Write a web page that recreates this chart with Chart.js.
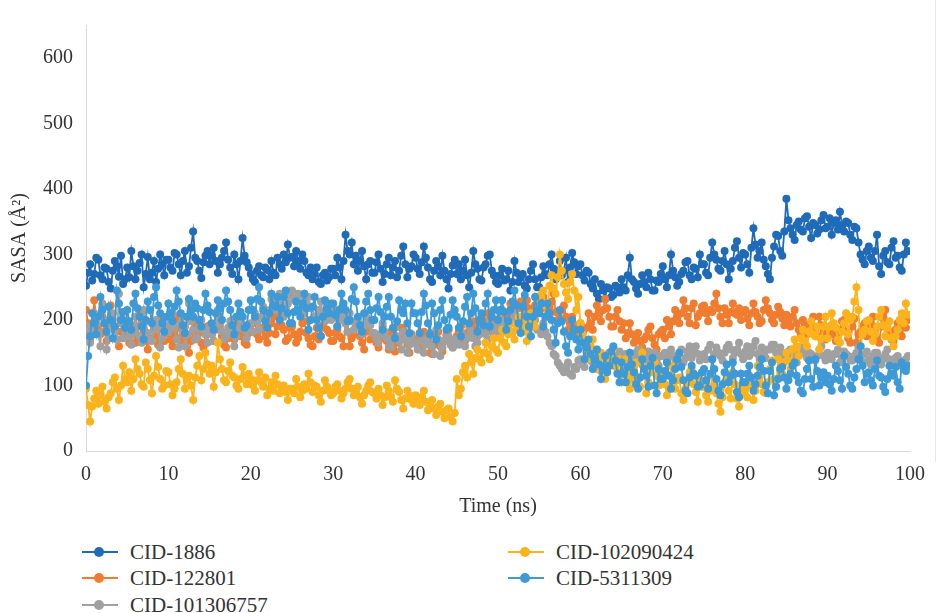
<!DOCTYPE html>
<html>
<head>
<meta charset="utf-8">
<script src="https://cdn.jsdelivr.net/npm/chart.js@4.4.1/dist/chart.umd.min.js"></script>
<style>
  body { margin: 0; background: #fff; }
  #wrap { position: relative; width: 937px; height: 613px; overflow: hidden; }
  #chart { position: absolute; left: 0; top: 0; }
  .edge { position: absolute; left: 935px; top: 0; width: 1px; height: 462px; background: #e6e6e6; }
  .item { position: absolute; height: 26px; display: flex; align-items: center;
          font-family: "Liberation Serif", "Times New Roman", serif; font-size: 21px; color: #333; }
  .item svg { margin-right: 12px; }
</style>
</head>
<body>
<div id="wrap">
  <canvas id="chart" width="937" height="530"></canvas>
  <div class="edge"></div>
  <div id="legend"></div>
</div>
<script>
// time axis (ns), one row = 5 ns
const time = [
  0, 0.25, 0.5, 0.75, 1, 1.25, 1.5, 1.75, 2, 2.25, 2.5, 2.75, 3, 3.25, 3.5, 3.75, 4, 4.25, 4.5, 4.75,
  5, 5.25, 5.5, 5.75, 6, 6.25, 6.5, 6.75, 7, 7.25, 7.5, 7.75, 8, 8.25, 8.5, 8.75, 9, 9.25, 9.5, 9.75,
  10, 10.25, 10.5, 10.75, 11, 11.25, 11.5, 11.75, 12, 12.25, 12.5, 12.75, 13, 13.25, 13.5, 13.75, 14, 14.25, 14.5, 14.75,
  15, 15.25, 15.5, 15.75, 16, 16.25, 16.5, 16.75, 17, 17.25, 17.5, 17.75, 18, 18.25, 18.5, 18.75, 19, 19.25, 19.5, 19.75,
  20, 20.25, 20.5, 20.75, 21, 21.25, 21.5, 21.75, 22, 22.25, 22.5, 22.75, 23, 23.25, 23.5, 23.75, 24, 24.25, 24.5, 24.75,
  25, 25.25, 25.5, 25.75, 26, 26.25, 26.5, 26.75, 27, 27.25, 27.5, 27.75, 28, 28.25, 28.5, 28.75, 29, 29.25, 29.5, 29.75,
  30, 30.25, 30.5, 30.75, 31, 31.25, 31.5, 31.75, 32, 32.25, 32.5, 32.75, 33, 33.25, 33.5, 33.75, 34, 34.25, 34.5, 34.75,
  35, 35.25, 35.5, 35.75, 36, 36.25, 36.5, 36.75, 37, 37.25, 37.5, 37.75, 38, 38.25, 38.5, 38.75, 39, 39.25, 39.5, 39.75,
  40, 40.25, 40.5, 40.75, 41, 41.25, 41.5, 41.75, 42, 42.25, 42.5, 42.75, 43, 43.25, 43.5, 43.75, 44, 44.25, 44.5, 44.75,
  45, 45.25, 45.5, 45.75, 46, 46.25, 46.5, 46.75, 47, 47.25, 47.5, 47.75, 48, 48.25, 48.5, 48.75, 49, 49.25, 49.5, 49.75,
  50, 50.25, 50.5, 50.75, 51, 51.25, 51.5, 51.75, 52, 52.25, 52.5, 52.75, 53, 53.25, 53.5, 53.75, 54, 54.25, 54.5, 54.75,
  55, 55.25, 55.5, 55.75, 56, 56.25, 56.5, 56.75, 57, 57.25, 57.5, 57.75, 58, 58.25, 58.5, 58.75, 59, 59.25, 59.5, 59.75,
  60, 60.25, 60.5, 60.75, 61, 61.25, 61.5, 61.75, 62, 62.25, 62.5, 62.75, 63, 63.25, 63.5, 63.75, 64, 64.25, 64.5, 64.75,
  65, 65.25, 65.5, 65.75, 66, 66.25, 66.5, 66.75, 67, 67.25, 67.5, 67.75, 68, 68.25, 68.5, 68.75, 69, 69.25, 69.5, 69.75,
  70, 70.25, 70.5, 70.75, 71, 71.25, 71.5, 71.75, 72, 72.25, 72.5, 72.75, 73, 73.25, 73.5, 73.75, 74, 74.25, 74.5, 74.75,
  75, 75.25, 75.5, 75.75, 76, 76.25, 76.5, 76.75, 77, 77.25, 77.5, 77.75, 78, 78.25, 78.5, 78.75, 79, 79.25, 79.5, 79.75,
  80, 80.25, 80.5, 80.75, 81, 81.25, 81.5, 81.75, 82, 82.25, 82.5, 82.75, 83, 83.25, 83.5, 83.75, 84, 84.25, 84.5, 84.75,
  85, 85.25, 85.5, 85.75, 86, 86.25, 86.5, 86.75, 87, 87.25, 87.5, 87.75, 88, 88.25, 88.5, 88.75, 89, 89.25, 89.5, 89.75,
  90, 90.25, 90.5, 90.75, 91, 91.25, 91.5, 91.75, 92, 92.25, 92.5, 92.75, 93, 93.25, 93.5, 93.75, 94, 94.25, 94.5, 94.75,
  95, 95.25, 95.5, 95.75, 96, 96.25, 96.5, 96.75, 97, 97.25, 97.5, 97.75, 98, 98.25, 98.5, 98.75, 99, 99.25, 99.5, 99.75
];

const cid1886 = [
  252, 272, 285, 260, 270, 295, 292, 268, 262, 280, 278, 258, 248, 275, 290, 282, 266, 298, 255, 262,
  280, 265, 305, 282, 262, 275, 287, 300, 250, 270, 296, 262, 272, 290, 258, 278, 300, 285, 268, 292,
  292, 280, 275, 302, 300, 285, 268, 290, 305, 272, 282, 310, 335, 295, 290, 275, 264, 288, 298, 305,
  285, 298, 310, 290, 272, 285, 295, 305, 318, 292, 280, 270, 300, 285, 262, 290, 325, 298, 288, 280,
  270, 262, 258, 275, 282, 268, 265, 280, 276, 262, 290, 272, 268, 295, 285, 278, 300, 288, 315, 295,
  296, 282, 305, 290, 278, 300, 290, 272, 268, 280, 262, 270, 280, 258, 255, 268, 272, 260, 265, 278,
  278, 268, 295, 280, 262, 290, 330, 305, 300, 318, 285, 298, 275, 290, 305, 282, 262, 285, 290, 272,
  272, 288, 300, 278, 258, 270, 285, 295, 268, 280, 290, 265, 275, 298, 312, 285, 265, 278, 282, 300,
  295, 278, 270, 288, 312, 295, 280, 262, 258, 275, 290, 282, 268, 298, 275, 262, 248, 270, 283, 292,
  270, 285, 262, 275, 292, 268, 250, 272, 305, 285, 278, 262, 260, 280, 285, 298, 300, 275, 268, 258,
  255, 268, 278, 260, 262, 275, 245, 258, 290, 272, 258, 265, 270, 252, 248, 262, 275, 285, 262, 250,
  250, 265, 282, 270, 268, 285, 300, 278, 262, 275, 290, 268, 275, 295, 258, 280, 302, 288, 270, 282,
  285, 268, 260, 275, 272, 255, 248, 262, 240, 232, 255, 245, 232, 250, 248, 235, 238, 252, 250, 242,
  262, 250, 245, 268, 295, 262, 258, 248, 240, 255, 268, 258, 250, 272, 262, 245, 245, 260, 258, 270,
  282, 262, 250, 268, 300, 275, 265, 252, 258, 270, 275, 288, 290, 268, 262, 280, 278, 265, 300, 285,
  285, 272, 268, 295, 318, 300, 292, 278, 275, 290, 305, 285, 262, 278, 290, 310, 320, 295, 280, 302,
  300, 285, 272, 310, 340, 315, 295, 305, 318, 292, 282, 270, 262, 295, 312, 330, 328, 305, 298, 335,
  385, 352, 340, 330, 322, 345, 350, 338, 335, 355, 358, 342, 325, 348, 345, 332, 338, 352, 360, 340,
  342, 355, 330, 348, 352, 338, 365, 345, 335, 350, 348, 330, 322, 342, 340, 318, 300, 292, 285, 305,
  312, 295, 290, 305, 330, 282, 270, 298, 305, 288, 285, 310, 320, 295, 298, 280, 275, 300, 318, 305
];

const cid122801 = [
  215, 195, 172, 188, 230, 205, 190, 178, 205, 182, 168, 195, 222, 200, 185, 170, 160, 182, 200, 188,
  178, 165, 192, 180, 165, 175, 210, 190, 182, 168, 155, 172, 198, 185, 175, 162, 188, 200, 168, 180,
  185, 170, 160, 178, 205, 188, 172, 165, 190, 175, 150, 168, 182, 195, 198, 180, 165, 158, 178, 190,
  192, 178, 168, 185, 205, 190, 175, 162, 158, 172, 185, 200, 170, 182, 195, 175, 178, 165, 162, 180,
  182, 195, 200, 178, 170, 185, 188, 175, 165, 180, 195, 205, 178, 190, 210, 192, 185, 168, 172, 188,
  190, 178, 165, 172, 182, 195, 198, 180, 172, 162, 160, 175, 188, 170, 175, 192, 205, 185, 180, 168,
  168, 180, 185, 175, 172, 160, 195, 182, 160, 172, 178, 188, 190, 175, 165, 155, 182, 195, 170, 178,
  175, 165, 158, 172, 190, 180, 168, 155, 182, 170, 152, 165, 172, 188, 185, 170, 162, 150, 178, 168,
  170, 160, 155, 172, 182, 168, 165, 150, 148, 162, 175, 182, 160, 152, 168, 178, 185, 170, 158, 165,
  175, 182, 190, 172, 168, 180, 182, 195, 198, 185, 175, 192, 205, 198, 188, 210, 195, 182, 178, 200,
  200, 212, 215, 198, 192, 208, 225, 215, 205, 195, 218, 228, 198, 210, 230, 218, 210, 200, 222, 235,
  215, 225, 235, 218, 205, 220, 228, 240, 212, 200, 198, 215, 222, 205, 185, 195, 205, 188, 178, 192,
  195, 182, 170, 188, 210, 195, 185, 205, 222, 210, 198, 215, 232, 218, 205, 190, 190, 205, 215, 198,
  185, 195, 172, 180, 195, 178, 165, 175, 180, 168, 158, 170, 175, 185, 190, 172, 162, 155, 178, 182,
  185, 172, 200, 190, 178, 198, 215, 205, 195, 210, 230, 218, 205, 195, 218, 225, 192, 205, 210, 220,
  222, 210, 198, 215, 212, 225, 240, 218, 205, 195, 218, 208, 195, 212, 225, 210, 208, 218, 200, 212,
  215, 202, 192, 210, 225, 212, 205, 195, 198, 215, 230, 218, 210, 200, 195, 208, 220, 212, 202, 192,
  208, 198, 190, 205, 215, 195, 185, 178, 200, 192, 178, 188, 195, 205, 188, 175, 205, 192, 182, 170,
  175, 185, 192, 178, 168, 180, 185, 198, 200, 182, 172, 165, 190, 202, 165, 178, 182, 190, 195, 175,
  178, 192, 205, 185, 170, 165, 190, 202, 215, 195, 182, 170, 168, 185, 195, 178, 175, 190, 188, 200
];

const cid101306757 = [
  192, 178, 165, 185, 210, 195, 178, 160, 225, 200, 155, 172, 198, 210, 185, 170, 240, 195, 172, 185,
  188, 175, 162, 180, 205, 190, 175, 165, 215, 198, 180, 170, 168, 185, 200, 188, 158, 172, 190, 182,
  182, 195, 210, 188, 170, 158, 195, 205, 160, 178, 225, 198, 185, 170, 172, 190, 200, 185, 178, 165,
  190, 178, 168, 190, 215, 195, 182, 170, 175, 188, 198, 180, 160, 175, 188, 200, 205, 185, 172, 190,
  195, 182, 210, 198, 185, 205, 220, 212, 200, 215, 232, 218, 215, 228, 240, 222, 205, 218, 225, 238,
  245, 232, 228, 240, 238, 222, 210, 225, 235, 218, 220, 205, 205, 215, 228, 210, 198, 212, 215, 200,
  205, 215, 190, 200, 218, 205, 195, 182, 210, 198, 185, 195, 200, 188, 178, 190, 205, 195, 192, 180,
  180, 172, 165, 178, 195, 182, 172, 160, 158, 170, 188, 175, 168, 155, 182, 170, 150, 162, 175, 165,
  165, 155, 178, 168, 150, 162, 172, 180, 160, 148, 185, 170, 145, 158, 168, 175, 175, 162, 158, 170,
  170, 162, 182, 175, 160, 172, 190, 182, 172, 160, 165, 178, 185, 192, 178, 170, 195, 185, 180, 192,
  188, 178, 200, 192, 182, 195, 195, 205, 210, 198, 185, 192, 198, 210, 205, 188, 190, 200, 200, 185,
  185, 178, 195, 182, 175, 165, 160, 148, 145, 135, 130, 125, 120, 128, 135, 118, 115, 128, 125, 138,
  140, 132, 128, 145, 150, 138, 135, 148, 145, 130, 122, 135, 138, 145, 150, 140, 130, 138, 145, 152,
  135, 142, 148, 138, 128, 140, 142, 150, 155, 145, 132, 138, 145, 152, 138, 130, 150, 142, 130, 145,
  145, 150, 138, 148, 155, 145, 140, 132, 148, 155, 135, 142, 152, 160, 142, 150, 160, 148, 138, 145,
  148, 140, 155, 162, 140, 148, 158, 150, 145, 138, 150, 158, 162, 155, 142, 150, 155, 165, 148, 140,
  152, 160, 145, 150, 160, 168, 148, 140, 158, 150, 142, 155, 155, 162, 162, 150, 148, 158, 150, 145,
  145, 152, 155, 148, 140, 135, 150, 158, 158, 148, 142, 150, 148, 140, 138, 145, 155, 160, 145, 138,
  150, 142, 140, 148, 148, 155, 135, 142, 152, 148, 145, 138, 138, 145, 150, 158, 142, 135, 148, 152,
  138, 132, 145, 150, 150, 142, 132, 140, 148, 155, 140, 135, 135, 142, 145, 138, 130, 125, 140, 145
];

const cid102090424 = [
  95, 70, 45, 68, 80, 92, 72, 85, 98, 75, 65, 82, 88, 105, 112, 95, 78, 100, 130, 110,
  105, 120, 92, 110, 140, 125, 118, 102, 98, 135, 125, 108, 88, 115, 145, 128, 110, 95, 100, 122,
  120, 102, 85, 95, 105, 125, 140, 118, 95, 110, 115, 100, 78, 112, 130, 145, 108, 125, 150, 132,
  118, 130, 98, 120, 165, 140, 125, 108, 105, 122, 135, 115, 112, 100, 95, 110, 128, 115, 102, 118,
  110, 100, 92, 108, 120, 105, 98, 112, 85, 95, 105, 92, 115, 102, 88, 98, 100, 90, 78, 95,
  95, 88, 110, 98, 82, 92, 102, 95, 118, 105, 90, 100, 98, 85, 75, 92, 108, 98, 92, 85,
  88, 98, 102, 92, 80, 88, 95, 105, 110, 95, 85, 92, 98, 82, 72, 85, 92, 100, 105, 90,
  88, 80, 95, 85, 70, 82, 100, 92, 82, 75, 108, 95, 90, 78, 65, 80, 92, 85, 78, 72,
  85, 78, 70, 82, 92, 75, 62, 70, 78, 65, 55, 68, 72, 60, 50, 62, 65, 52, 45, 58,
  110, 85, 95, 120, 130, 112, 148, 135, 118, 142, 155, 140, 135, 150, 165, 148, 140, 160, 172, 155,
  150, 172, 185, 165, 160, 178, 195, 182, 170, 192, 205, 188, 182, 200, 168, 190, 210, 195, 190, 215,
  225, 238, 245, 222, 210, 252, 268, 248, 240, 265, 300, 275, 255, 242, 232, 258, 270, 245, 215, 235,
  195, 178, 165, 150, 140, 158, 170, 145, 125, 138, 150, 130, 110, 125, 135, 148, 158, 132, 120, 140,
  105, 122, 140, 118, 95, 110, 128, 135, 112, 98, 150, 128, 88, 105, 120, 132, 135, 115, 100, 118,
  118, 102, 85, 98, 130, 112, 95, 108, 112, 88, 78, 95, 105, 120, 125, 102, 90, 75, 110, 98,
  98, 85, 75, 92, 115, 100, 88, 72, 60, 82, 105, 118, 92, 80, 120, 102, 80, 68, 100, 88,
  95, 82, 115, 100, 78, 92, 130, 112, 102, 90, 88, 105, 125, 138, 110, 98, 140, 125, 118, 135,
  150, 138, 125, 155, 170, 160, 145, 172, 185, 168, 160, 182, 198, 178, 175, 190, 155, 172, 190, 205,
  172, 190, 210, 195, 188, 170, 165, 182, 195, 210, 178, 200, 205, 228, 250, 215, 160, 178, 185, 198,
  200, 182, 168, 178, 190, 205, 215, 192, 175, 188, 198, 172, 160, 175, 185, 200, 210, 195, 225, 208
];

const cid5311309 = [
  100, 145, 175, 210, 195, 178, 205, 235, 215, 195, 182, 220, 200, 172, 190, 245, 225, 200, 212, 188,
  215, 198, 185, 225, 240, 218, 205, 190, 170, 200, 228, 215, 195, 235, 250, 222, 210, 195, 182, 205,
  225, 210, 198, 220, 245, 228, 210, 192, 180, 205, 232, 215, 205, 225, 218, 200, 190, 215, 240, 222,
  212, 195, 185, 210, 230, 218, 200, 225, 245, 228, 215, 192, 178, 205, 225, 212, 205, 188, 192, 215,
  230, 215, 205, 232, 250, 228, 215, 198, 188, 210, 240, 222, 220, 235, 200, 218, 235, 245, 210, 195,
  195, 212, 228, 215, 205, 225, 240, 218, 185, 200, 220, 235, 200, 188, 175, 205, 230, 218, 210, 225,
  225, 208, 190, 215, 240, 225, 215, 198, 200, 232, 250, 228, 205, 192, 182, 210, 228, 240, 215, 200,
  200, 218, 235, 212, 185, 205, 220, 235, 205, 188, 172, 198, 230, 215, 210, 225, 195, 180, 225, 210,
  210, 195, 180, 212, 240, 222, 195, 178, 225, 210, 170, 192, 215, 230, 200, 185, 188, 208, 230, 215,
  205, 188, 175, 198, 220, 235, 195, 210, 240, 218, 182, 200, 210, 192, 225, 240, 190, 205, 215, 230,
  200, 215, 230, 212, 185, 198, 215, 228, 245, 222, 195, 180, 220, 238, 205, 190, 175, 205, 235, 215,
  210, 225, 190, 205, 225, 210, 200, 185, 165, 195, 215, 198, 182, 160, 150, 175, 200, 185, 170, 155,
  185, 165, 140, 158, 170, 148, 125, 140, 155, 132, 110, 128, 145, 120, 130, 152, 160, 138, 118, 105,
  135, 118, 105, 128, 150, 132, 120, 102, 95, 112, 140, 125, 115, 98, 130, 142, 100, 88, 125, 110,
  110, 122, 135, 115, 95, 108, 125, 140, 150, 128, 108, 92, 88, 112, 130, 118, 115, 98, 100, 120,
  125, 108, 95, 118, 140, 125, 110, 92, 85, 102, 120, 132, 105, 115, 135, 118, 90, 82, 118, 105,
  105, 118, 130, 112, 92, 102, 115, 128, 140, 122, 100, 88, 122, 135, 85, 98, 110, 125, 128, 112,
  95, 108, 118, 130, 135, 115, 105, 92, 88, 110, 125, 138, 110, 98, 140, 122, 100, 112, 120, 105,
  115, 102, 92, 110, 130, 122, 108, 95, 145, 128, 118, 100, 95, 112, 125, 140, 160, 130, 105, 118,
  120, 108, 100, 125, 138, 115, 112, 98, 90, 110, 130, 118, 115, 128, 105, 95, 135, 125, 122, 130
];

const seriesNames = ['CID-1886', 'CID-122801', 'CID-101306757', 'CID-102090424', 'CID-5311309'];
const seriesValues = [cid1886, cid122801, cid101306757, cid102090424, cid5311309];
const seriesColors = ['#1f6bb8', '#f07c30', '#a0a0a0', '#fbb31c', '#3d9ad6'];
const xTicks = [0, 10, 20, 30, 40, 50, 60, 70, 80, 90, 100];
const yTicks = [0, 100, 200, 300, 400, 500, 600];

const font = { family: '"Liberation Serif", "Times New Roman", serif', size: 20 };
const textColor = '#333';

const datasets = seriesNames.map((name, i) => ({
  label: name,
  data: time.map((t, k) => ({ x: t, y: seriesValues[i][k] })),
  borderColor: seriesColors[i],
  backgroundColor: seriesColors[i],
  pointBackgroundColor: seriesColors[i],
  pointBorderWidth: 0,
  pointRadius: 4,
  borderWidth: 1.8,
  tension: 0,
  order: seriesNames.length - i   // first series drawn at the bottom, like Excel
}));

new Chart(document.getElementById('chart'), {
  type: 'line',
  data: { datasets: datasets },
  options: {
    responsive: false,
    animation: false,
    devicePixelRatio: 1,
    layout: { padding: { top: 18, right: 26, bottom: 0, left: 0 } },
    plugins: { legend: { display: false }, tooltip: { enabled: false } },
    scales: {
      x: {
        type: 'linear',
        min: 0,
        max: 100,
        afterBuildTicks: s => { s.ticks = xTicks.map(v => ({ value: v })); },
        afterFit: s => { s.height = 79; },
        grid: { display: false, drawTicks: false },
        border: { display: true, color: '#d9d9d9', width: 1 },
        ticks: { font: font, color: textColor, padding: 12, maxRotation: 0 },
        title: { display: true, text: 'Time (ns)', font: font, color: textColor, padding: { top: 4, bottom: 11 } }
      },
      y: {
        min: 0,
        max: 650,
        afterBuildTicks: s => { s.ticks = yTicks.map(v => ({ value: v })); },
        afterFit: s => { s.width = 86; },
        grid: { display: false, drawTicks: false },
        border: { display: true, color: '#d9d9d9', width: 1 },
        ticks: { font: font, color: textColor, padding: 13 },
        title: { display: true, text: 'SASA (Å²)', font: font, color: textColor, padding: { top: 8, bottom: 4 } }
      }
    }
  }
});

// legend laid out in two columns like the original
const legendPos = [[82, 539], [82, 565], [82, 592], [508, 539], [508, 565]];
const legend = document.getElementById('legend');
seriesNames.forEach((name, i) => {
  const div = document.createElement('div');
  div.className = 'item';
  div.style.left = legendPos[i][0] + 'px';
  div.style.top = legendPos[i][1] + 'px';
  const c = seriesColors[i];
  div.innerHTML = '<svg width="36" height="12"><line x1="0" y1="6" x2="36" y2="6" stroke="' + c +
    '" stroke-width="2"/><circle cx="17" cy="6" r="5" fill="' + c + '"/></svg>' + name;
  legend.appendChild(div);
});
</script>
</body>
</html>
